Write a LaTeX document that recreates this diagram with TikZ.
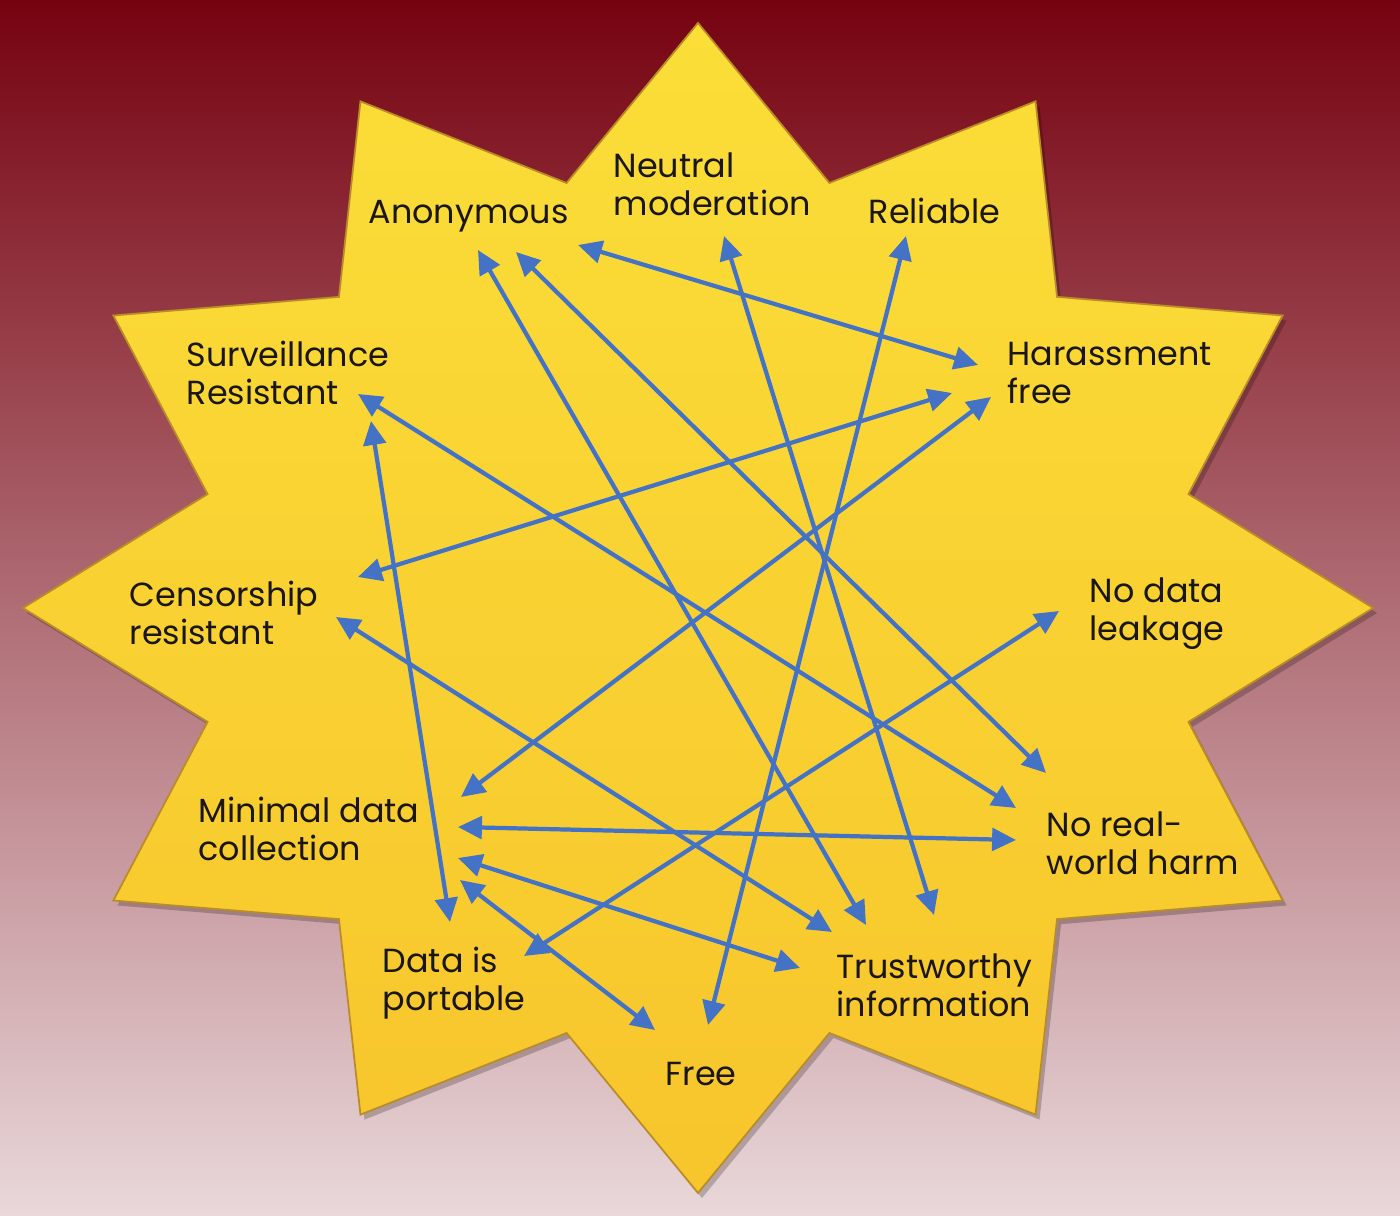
\documentclass[tikz,border=0pt]{standalone}
\usepackage{fontspec}
\setmainfont{Poppins}
\usepackage{xcolor}
\usepackage{tikz}
\usetikzlibrary{arrows.meta}

\definecolor{bgtop}{RGB}{118,2,16}
\definecolor{bgmid}{RGB}{168,72,86}
\definecolor{bgbot}{RGB}{233,216,218}
\definecolor{startop}{RGB}{251,222,56}
\definecolor{starbot}{RGB}{247,197,44}
\definecolor{staredge}{RGB}{186,140,40}
\definecolor{arrblue}{RGB}{68,114,196}
\definecolor{txt}{RGB}{26,22,18}

\begin{document}
\begin{tikzpicture}[
  x=0.01cm, y=-0.01cm,
  >={Triangle[length=6.8pt,width=6.4pt]},
  lbl/.style={anchor=west, align=left, inner sep=0pt, text=txt,
              font=\fontsize{9.5}{10.8}\selectfont},
  arr/.style={<->, draw=arrblue, line width=1.2pt},
  starshape/.style={insert path={plot[samples at={0,...,23}]
      ({698+1.154*(512.5+72.5*cos(180*\x))*cos(90+15*\x)},
       {608-(512.5+72.5*cos(180*\x))*sin(90+15*\x)}) -- cycle}}]

\useasboundingbox (0,0) rectangle (1400,1216);
\shade[top color=bgtop, middle color=bgmid, bottom color=bgbot] (0,0) rectangle (1400,1216);

% star
\fill[black, opacity=0.22, shift={(4,5)}, starshape];
\shade[top color=startop, bottom color=starbot, draw=staredge, line width=0.5pt, starshape];

% labels
\node[lbl] (anon) at (368,216) {Anonymous};
\node[lbl] (neutral) at (613,184) {Neutral\\moderation};
\node[lbl] (reliable) at (868,211) {Reliable};
\node[lbl] (surv) at (186,373) {Surveillance\\Resistant};
\node[lbl] (harass) at (1007,373) {Harassment\\free};
\node[lbl] (cens) at (129,613) {Censorship\\resistant};
\node[lbl] (leak) at (1089,614) {No data\\leakage};
\node[lbl] (minimal) at (198,829) {Minimal data\\collection};
\node[lbl] (harm) at (1046,843) {No real-\\world harm};
\node[lbl] (portable) at (382,983) {Data is\\portable};
\node[lbl] (trust) at (836,985) {Trustworthy\\information};
\node[lbl] (free) at (665,1074) {Free};

% arrow ends
\coordinate (anon1) at (478,250);
\coordinate (anon2) at (516,252);
\coordinate (anon3) at (578,245);
\coordinate (neutral1) at (724,236);
\coordinate (reliable1) at (906,236);
\coordinate (surv1) at (358,394);
\coordinate (surv2) at (371,421);
\coordinate (harass1) at (978,365);
\coordinate (harass2) at (952,393);
\coordinate (harass3) at (991,397);
\coordinate (cens1) at (358,577);
\coordinate (cens2) at (336,617);
\coordinate (leak1) at (1059,611);
\coordinate (minimal1) at (461,797);
\coordinate (minimal2) at (458,827);
\coordinate (minimal3) at (458,858);
\coordinate (minimal4) at (460,880);
\coordinate (harm1) at (1046,773);
\coordinate (harm2) at (1016,808);
\coordinate (harm3) at (1016,840);
\coordinate (portable1) at (450,922);
\coordinate (portable2) at (524,956);
\coordinate (trust1) at (866,925);
\coordinate (trust2) at (934,915);
\coordinate (trust3) at (832,932);
\coordinate (trust4) at (800,968);
\coordinate (free1) at (708,1025);
\coordinate (free2) at (655,1030);

% links
\draw[arr] (anon1) -- (trust1);
\draw[arr] (anon2) -- (harm1);
\draw[arr] (anon3) -- (harass1);
\draw[arr] (neutral1) -- (trust2);
\draw[arr] (reliable1) -- (free1);
\draw[arr] (surv1) -- (harm2);
\draw[arr] (surv2) -- (portable1);
\draw[arr] (cens1) -- (harass2);
\draw[arr] (cens2) -- (trust3);
\draw[arr] (minimal1) -- (harass3);
\draw[arr] (minimal2) -- (harm3);
\draw[arr] (minimal3) -- (trust4);
\draw[arr] (minimal4) -- (free2);
\draw[arr] (portable2) -- (leak1);
\end{tikzpicture}
\end{document}
